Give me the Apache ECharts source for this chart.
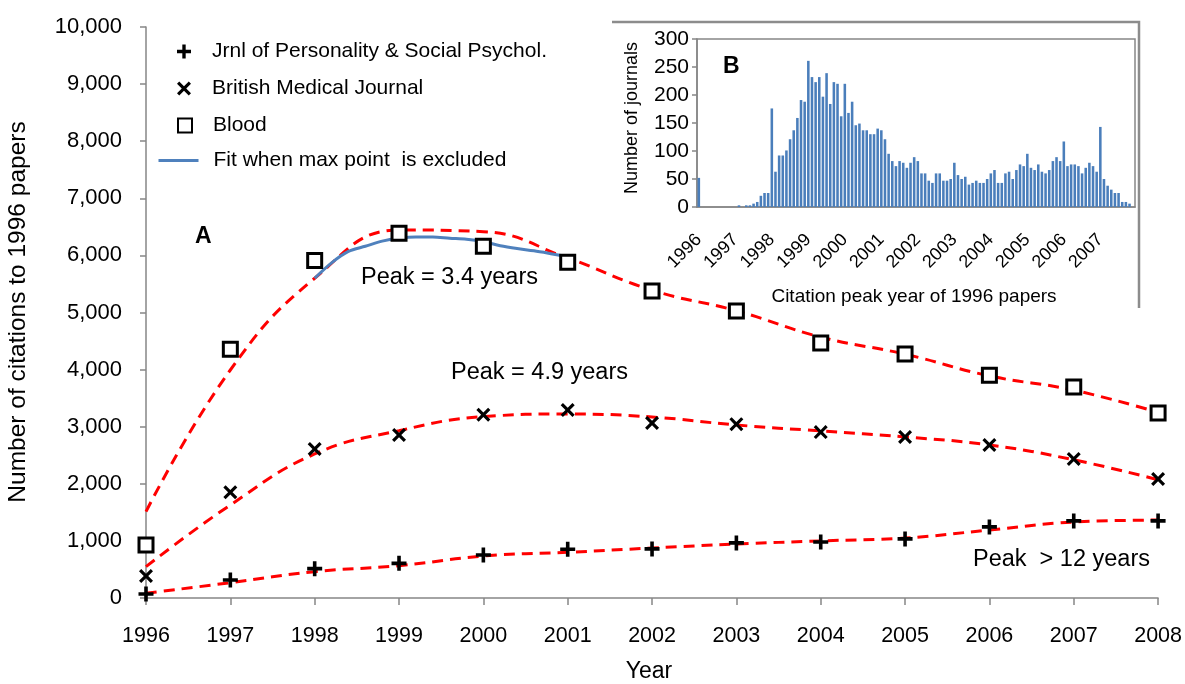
<!DOCTYPE html>
<html>
<head>
<meta charset="utf-8">
<script src="https://cdn.jsdelivr.net/npm/echarts@6/dist/echarts.min.js"></script>
<style>
  html, body { margin: 0; padding: 0; background: #fff; }
  #chart { width: 1185px; height: 684px; }
</style>
</head>
<body>
<div id="chart"></div>
<script>
// ---- Panel A: yearly citations to 1996 papers ----
const years = [1996, 1997, 1998, 1999, 2000, 2001, 2002, 2003, 2004, 2005, 2006, 2007, 2008];

const jpsp  = [70, 315, 514, 607, 753, 853, 860, 965, 980, 1035, 1245, 1350, 1350];
const bmj   = [385, 1851, 2609, 2855, 3210, 3292, 3065, 3045, 2905, 2820, 2680, 2435, 2085];
const blood = [928, 4355, 5910, 6390, 6160, 5880, 5375, 5025, 4465, 4275, 3900, 3695, 3240];

// fitted model values at each year (red dashed curves)
const jpspFit  = [82, 268, 461, 566, 735, 800, 875, 945, 1000, 1050, 1190, 1330, 1365];
const bmjFit   = [549, 1629, 2522, 2930, 3176, 3222, 3170, 3030, 2925, 2820, 2680, 2420, 2070];
const bloodFit = [1512, 3993, 5600, 6445, 6416, 5954, 5390, 5030, 4570, 4270, 3890, 3640, 3250];

// Blood fit with the maximum point left out
const fitNoMaxYears  = [1998.0, 1998.2, 1998.4, 1998.6, 1998.8, 1999.0, 1999.2, 1999.4, 1999.6, 1999.8, 2000.0, 2000.2, 2000.4, 2000.6, 2000.8, 2001.0];
const fitNoMaxValues = [5600, 5870, 6070, 6160, 6250, 6300, 6322, 6322, 6300, 6282, 6240, 6170, 6120, 6080, 6030, 5977];

const yTicks = [0, 1000, 2000, 3000, 4000, 5000, 6000, 7000, 8000, 9000, 10000];

// ---- Panel B: distribution of citation peak year (0.1-year bins) ----
const peakBinStart = 1996;
const journalsPerBin = [
  52, 0, 0, 0, 0, 0, 0, 0, 0, 0,
  0, 3, 0, 3, 3, 6, 9, 20, 25, 25,
  176, 63, 92, 92, 101, 121, 137, 159, 191, 188,
  261, 232, 223, 232, 197, 239, 184, 223, 220, 162,
  220, 168, 188, 146, 149, 137, 137, 130, 130, 140,
  137, 121, 95, 82, 73, 82, 79, 70, 79, 89,
  82, 60, 60, 47, 43, 60, 60, 47, 47, 50,
  79, 57, 50, 54, 40, 43, 47, 43, 43, 50,
  60, 66, 43, 43, 60, 63, 50, 66, 76, 73,
  95, 70, 66, 76, 63, 60, 66, 82, 89, 82,
  117, 73, 76, 76, 73, 60, 70, 79, 73, 63,
  143, 50, 38, 31, 25, 25, 9, 9, 6, 0
];
const peakBins = journalsPerBin.map((_, i) => (peakBinStart + i / 10).toFixed(1));

const names = {
  jpsp: 'Jrnl of Personality & Social Psychol.',
  bmj: 'British Medical Journal',
  blood: 'Blood',
  fit: 'Fit when max point  is excluded'
};

const FONT = '"Liberation Sans", Arial, sans-serif';
const AXIS_GRAY = '#868686';
const RED = '#ff0000';
const BLUE = '#4f81bd';

const plusPath  = 'path://M3.8,0H6.2V3.8H10V6.2H6.2V10H3.8V6.2H0V3.8H3.8Z';
const crossPath = 'path://M0,1.6L1.6,0L5,3.4L8.4,0L10,1.6L6.6,5L10,8.4L8.4,10L5,6.6L1.6,10L0,8.4L3.4,5Z';

const pairs = (xs, ys) => xs.map((x, i) => [x, ys[i]]);

const fitLine = (data) => ({
  type: 'line', xAxisIndex: 0, yAxisIndex: 0,
  data, smooth: 0.45, symbol: 'none', silent: true, z: 2,
  lineStyle: { color: RED, width: 3, type: [11, 7] }
});

const legendItem = (name, top, left, itemWidth, padLeft, extra) => Object.assign({
  data: [name], left, top, orient: 'vertical', padding: 0,
  itemWidth, itemHeight: 14,
  textStyle: { fontFamily: FONT, fontSize: 21, color: '#000', padding: [0, 0, 0, padLeft] },
  selectedMode: false
}, extra || {});

const chart = echarts.init(document.getElementById('chart'), null, { renderer: 'canvas' });

chart.setOption({
  animation: false,
  backgroundColor: '#fff',
  textStyle: { fontFamily: FONT },
  grid: [
    { left: 146, right: 25, top: 27, bottom: 86 },
    { left: 697, right: 50, top: 39, bottom: 477, show: true, borderColor: AXIS_GRAY, borderWidth: 1.5, backgroundColor: 'transparent' }
  ],
  xAxis: [
    {
      gridIndex: 0, type: 'value', min: years[0], max: years[years.length - 1], interval: 1,
      axisLine: { lineStyle: { color: AXIS_GRAY, width: 1.5 } },
      axisTick: { length: 7, lineStyle: { color: AXIS_GRAY, width: 1.5 } },
      axisLabel: { margin: 27, fontSize: 21.5, color: '#000', formatter: v => String(v) },
      splitLine: { show: false }
    },
    {
      gridIndex: 1, type: 'category', data: peakBins, boundaryGap: true,
      axisLine: { lineStyle: { color: AXIS_GRAY, width: 1.5 } },
      axisTick: { interval: 0, length: 4, lineStyle: { color: AXIS_GRAY, width: 1 } },
      axisLabel: {
        interval: 0, rotate: 45, margin: 30, fontSize: 18, color: '#000',
        formatter: v => (v.endsWith('.0') ? v.slice(0, 4) : '')
      },
      splitLine: { show: false }
    }
  ],
  yAxis: [
    {
      gridIndex: 0, type: 'value', min: yTicks[0], max: yTicks[yTicks.length - 1], interval: 1000,
      axisLine: { show: true, lineStyle: { color: AXIS_GRAY, width: 1.5 } },
      axisTick: { show: true, length: 6, lineStyle: { color: AXIS_GRAY, width: 1.5 } },
      axisLabel: { margin: 24, fontSize: 22, color: '#000', formatter: v => v.toLocaleString('en-US') },
      splitLine: { show: false }
    },
    {
      gridIndex: 1, type: 'value', min: 0, max: 300, interval: 50,
      axisLine: { show: true, lineStyle: { color: AXIS_GRAY, width: 1.5 } },
      axisTick: { show: true, length: 5, lineStyle: { color: AXIS_GRAY, width: 1.5 } },
      axisLabel: { margin: 8, fontSize: 21, color: '#000' },
      splitLine: { show: false }
    }
  ],
  legend: [
    legendItem(names.jpsp, 41, 177, 14, 16),
    legendItem(names.bmj, 78, 177, 14, 16),
    legendItem(names.blood, 115, 177, 14, 16),
    legendItem(names.fit, 150, 157, 40, 10, { itemStyle: { opacity: 0 }, lineStyle: { width: 3, color: BLUE } })
  ],
  series: [
    fitLine(pairs(years, jpspFit)),
    fitLine(pairs(years, bmjFit)),
    fitLine(pairs(years, bloodFit)),
    {
      name: names.fit, type: 'line', xAxisIndex: 0, yAxisIndex: 0,
      data: pairs(fitNoMaxYears, fitNoMaxValues), smooth: 0.3, symbol: 'none', z: 3,
      lineStyle: { color: BLUE, width: 3 }, itemStyle: { color: BLUE }
    },
    {
      name: names.jpsp, type: 'scatter', xAxisIndex: 0, yAxisIndex: 0,
      data: pairs(years, jpsp), symbol: plusPath, symbolSize: 15, z: 4,
      itemStyle: { color: '#000', opacity: 1 }
    },
    {
      name: names.bmj, type: 'scatter', xAxisIndex: 0, yAxisIndex: 0,
      data: pairs(years, bmj), symbol: crossPath, symbolSize: 14, z: 4,
      itemStyle: { color: '#000', opacity: 1 }
    },
    {
      name: names.blood, type: 'scatter', xAxisIndex: 0, yAxisIndex: 0,
      data: pairs(years, blood), symbol: 'rect', symbolSize: 14, z: 4,
      itemStyle: { color: '#fff', borderColor: '#000', borderWidth: 3, opacity: 1 }
    },
    {
      type: 'bar', xAxisIndex: 1, yAxisIndex: 1,
      data: journalsPerBin, barCategoryGap: '30%', silent: true,
      itemStyle: { color: '#4a7ebb' }
    }
  ],
  graphic: [
    // inset frame (top and right edges)
    { type: 'polyline', silent: true, shape: { points: [[612, 22], [1139, 22], [1139, 308]] },
      style: { stroke: '#8c8c8c', lineWidth: 2.5, fill: null } },
    { type: 'text', silent: true, x: 18, y: 312, rotation: Math.PI / 2,
      style: { text: 'Number of citations to 1996 papers', font: '24.5px ' + FONT, fill: '#000', align: 'center', verticalAlign: 'middle' } },
    { type: 'text', silent: true, x: 649, y: 672,
      style: { text: 'Year', font: '23px ' + FONT, fill: '#000', align: 'center', verticalAlign: 'middle' } },
    { type: 'text', silent: true, x: 195, y: 237,
      style: { text: 'A', font: 'bold 23px ' + FONT, fill: '#000', verticalAlign: 'middle' } },
    { type: 'text', silent: true, x: 723, y: 67,
      style: { text: 'B', font: 'bold 23px ' + FONT, fill: '#000', verticalAlign: 'middle' } },
    { type: 'text', silent: true, x: 361, y: 278,
      style: { text: 'Peak = 3.4 years', font: '23.5px ' + FONT, fill: '#000', verticalAlign: 'middle' } },
    { type: 'text', silent: true, x: 451, y: 373,
      style: { text: 'Peak = 4.9 years', font: '23.5px ' + FONT, fill: '#000', verticalAlign: 'middle' } },
    { type: 'text', silent: true, x: 973, y: 560,
      style: { text: 'Peak  > 12 years', font: '23.5px ' + FONT, fill: '#000', verticalAlign: 'middle' } },
    { type: 'text', silent: true, x: 632, y: 118, rotation: Math.PI / 2,
      style: { text: 'Number of journals', font: '18px ' + FONT, fill: '#000', align: 'center', verticalAlign: 'middle' } },
    { type: 'text', silent: true, x: 914, y: 297,
      style: { text: 'Citation peak year of 1996 papers', font: '19px ' + FONT, fill: '#000', align: 'center', verticalAlign: 'middle' } }
  ]
});
</script>
</body>
</html>
